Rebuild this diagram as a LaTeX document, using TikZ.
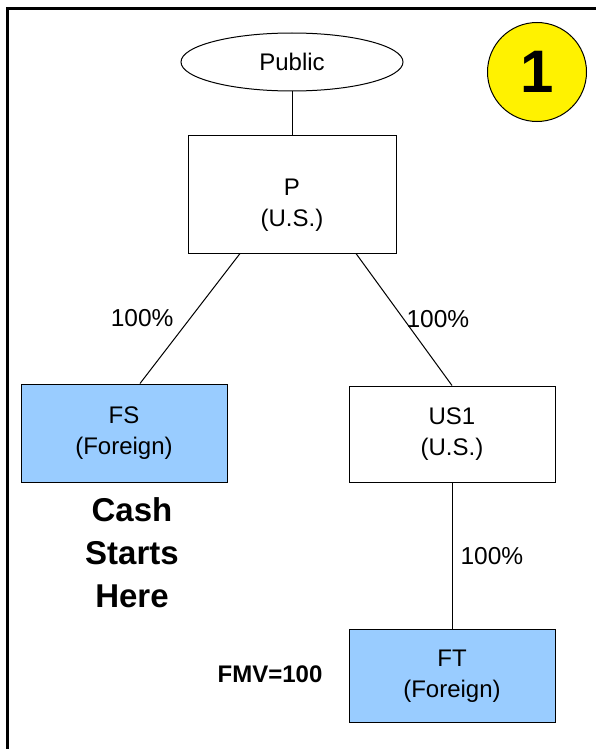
\documentclass[tikz,border=0pt]{standalone}
\usepackage{fontspec}
\setmainfont{Liberation Sans}
\usetikzlibrary{shapes.geometric}
\definecolor{boxblue}{HTML}{99CCFF}

\begin{document}
\begin{tikzpicture}[x=1pt,y=-1pt,
    entity/.style={draw, line width=1pt, rectangle, align=center, inner sep=0pt,
      minimum width=206pt, minimum height=97pt, font=\fontsize{24}{30.5}\selectfont},
    foreign/.style={entity, fill=boxblue},
    pct/.style={font=\fontsize{24.5}{28}\selectfont, inner sep=2pt}]

  \useasboundingbox (0,0) rectangle (596,749);

  %% frame (only top and left edges are visible)
  \draw[line width=3pt] (7,751) -- (7,9) -- (598,9);

  \node[ellipse, draw, line width=1pt, minimum width=222pt, minimum height=58pt,
    inner sep=0pt, font=\fontsize{24}{28}\selectfont] (public) at (292,62) {Public};

  \node[circle, draw, line width=1pt, fill=yellow, minimum size=99pt, inner sep=0pt,
    font=\fontsize{60}{64}\selectfont\bfseries] (step1) at (537,72) {1};

  \node[entity, minimum width=208pt, minimum height=118pt, text height=69pt, text depth=5pt]
    (P) at (292,194) {P\\(U.S.)};
  \node[foreign, minimum height=98pt] (FS) at (124,433) {FS\\(Foreign)};
  \node[entity, minimum height=96pt] (US1) at (452,434) {US1\\(U.S.)};
  \node[foreign, minimum height=93pt] (FT) at (452,676) {FT\\(Foreign)};

  \node[align=center, font=\fontsize{33}{43}\selectfont\bfseries] (cash) at (132,553)
    {Cash\\Starts\\Here};
  \node[font=\fontsize{24}{28}\selectfont\bfseries] (fmv) at (270,674) {FMV=100};

  \draw[line width=1pt] (public) -- (P);
  \draw[line width=1pt] ([xshift=-52pt]P.south) -- node[pct, midway, left=14pt] {100\%}
    ([xshift=16pt]FS.north); %% P->FS
  \draw[line width=1pt] ([xshift=64pt]P.south) -- node[pct, midway, right=0pt] {100\%}
    (US1.north); %% P->US1
  \draw[line width=1pt] (US1) -- node[pct, midway, right=6pt] {100\%} (FT); %% US1->FT

\end{tikzpicture}
\end{document}
